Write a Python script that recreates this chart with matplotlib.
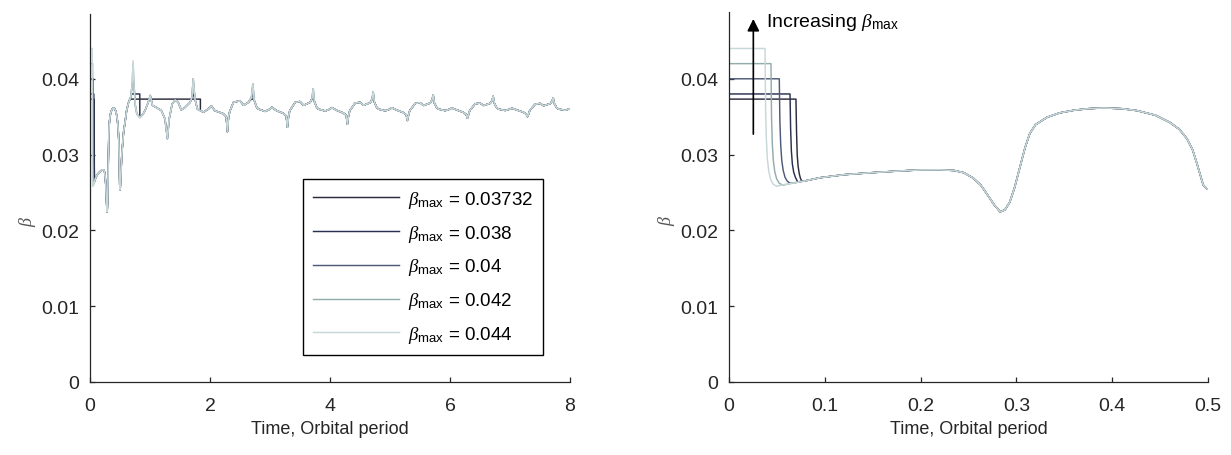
import numpy as np
import matplotlib
matplotlib.use("Agg")
import matplotlib.pyplot as plt

plt.rcParams['font.family'] = ['Liberation Sans', 'DejaVu Sans']
plt.rcParams['mathtext.fontset'] = 'custom'
plt.rcParams['mathtext.rm'] = 'Liberation Sans'
plt.rcParams['mathtext.it'] = 'Liberation Serif:italic'
plt.rcParams['mathtext.bf'] = 'Liberation Sans:bold'

# ---------------- data ----------------
beta_max = [0.03732, 0.038, 0.04, 0.042, 0.044]
labels = ["0.03732", "0.038", "0.04", "0.042", "0.044"]
colors = ["#2b2b3c", "#2a3050", "#4f5b78", "#93adae", "#c8d7d8"]

# initial plateau + drop of each run (time in orbital periods, beta)
head_t_03732 = [0.0, 0.0699, 0.0705, 0.0712, 0.0721, 0.0733, 0.0745, 0.0759]
head_b_03732 = [0.03732, 0.03732, 0.0330, 0.0300, 0.0285, 0.0275, 0.0269, 0.02652]
head_t_038 = [0.0, 0.0637, 0.0643, 0.0651, 0.0661, 0.0675, 0.0693, 0.0717]
head_b_038 = [0.0380, 0.0380, 0.0335, 0.0305, 0.0288, 0.0277, 0.0270, 0.02640]
head_t_040 = [0.0, 0.0525, 0.0531, 0.0540, 0.0551, 0.0566, 0.0585, 0.0608, 0.0637]
head_b_040 = [0.0400, 0.0400, 0.0345, 0.0312, 0.0292, 0.0279, 0.0270, 0.0265, 0.02622]
head_t_042 = [0.0, 0.0438, 0.0444, 0.0452, 0.0462, 0.0477, 0.0497, 0.0525, 0.0567]
head_b_042 = [0.0420, 0.0420, 0.0350, 0.0315, 0.0293, 0.0278, 0.0268, 0.0262, 0.02595]
head_t_044 = [0.0, 0.0376, 0.0382, 0.0390, 0.0400, 0.0415, 0.0435, 0.0460, 0.0498]
head_b_044 = [0.0440, 0.0440, 0.0360, 0.0320, 0.0295, 0.0278, 0.0267, 0.0261, 0.02582]

# limiter hold windows (start, end) where beta stays at beta_max
hold_03732 = (0.665, 1.84)
hold_038 = (0.69, 0.83)

# common trajectory after the initial drop
common_t = [
    0.050, 0.060, 0.070, 0.080, 0.095, 0.120, 0.147, 0.175, 0.200, 0.220,
    0.235, 0.245, 0.255, 0.263, 0.270, 0.277, 0.283, 0.288, 0.293, 0.298,
    0.304, 0.309, 0.314, 0.320, 0.332, 0.345, 0.360, 0.375, 0.391, 0.410,
    0.426, 0.445, 0.460, 0.470, 0.478, 0.484, 0.488, 0.492, 0.495, 0.499,
    0.503, 0.510, 0.530, 0.560, 0.583, 0.610, 0.640, 0.680, 0.700, 0.718,
    0.735, 0.755, 0.780, 0.830, 0.880, 0.917, 0.970, 1.005, 1.040, 1.110,
    1.190, 1.250, 1.290, 1.320, 1.370, 1.420, 1.470, 1.520, 1.580, 1.670,
    1.700, 1.720, 1.750, 1.790, 1.890, 1.970, 2.025, 2.080, 2.220, 2.270,
    2.290, 2.310, 2.330, 2.390, 2.500, 2.560, 2.640, 2.690, 2.715, 2.735,
    2.780, 2.810, 2.920, 3.000, 3.030, 3.110, 3.220, 3.270, 3.290, 3.310,
    3.330, 3.420, 3.500, 3.560, 3.670, 3.700, 3.720, 3.740, 3.780, 3.810,
    3.920, 4.000, 4.030, 4.110, 4.220, 4.270, 4.290, 4.310, 4.330, 4.420,
    4.500, 4.560, 4.670, 4.700, 4.720, 4.740, 4.780, 4.810, 4.920, 5.000,
    5.030, 5.110, 5.220, 5.270, 5.290, 5.310, 5.330, 5.420, 5.500, 5.560,
    5.670, 5.700, 5.720, 5.740, 5.780, 5.810, 5.920, 6.000, 6.030, 6.110,
    6.220, 6.270, 6.290, 6.310, 6.330, 6.420, 6.500, 6.560, 6.670, 6.700,
    6.720, 6.740, 6.780, 6.810, 6.920, 7.000, 7.030, 7.110, 7.220, 7.270,
    7.290, 7.310, 7.330, 7.420, 7.500, 7.560, 7.670, 7.700, 7.720, 7.740,
    7.780, 7.810, 7.920, 8.000]
common_b = [
    0.02585, 0.02608, 0.02632, 0.02655, 0.02695, 0.02735, 0.02760, 0.02782, 0.02798, 0.02800,
    0.02790, 0.02762, 0.02690, 0.02595, 0.02465, 0.02335, 0.02245, 0.02270, 0.02370, 0.02560,
    0.02850, 0.03090, 0.03280, 0.03395, 0.03492, 0.03550, 0.03585, 0.03606, 0.03615, 0.03606,
    0.03580, 0.03520, 0.03426, 0.03335, 0.03210, 0.03060, 0.02900, 0.02730, 0.02600, 0.02545,
    0.02535, 0.02640, 0.03000, 0.03300, 0.03420, 0.03580, 0.03680, 0.03760, 0.03900, 0.04240,
    0.03900, 0.03650, 0.03540, 0.03490, 0.03530, 0.03580, 0.03690, 0.03780, 0.03650, 0.03620,
    0.03580, 0.03470, 0.03210, 0.03470, 0.03670, 0.03720, 0.03690, 0.03590, 0.03620, 0.03690,
    0.03760, 0.04000, 0.03730, 0.03600, 0.03560, 0.03600, 0.03640, 0.03580, 0.03540, 0.03500,
    0.03300, 0.03500, 0.03570, 0.03690, 0.03710, 0.03650, 0.03690, 0.03750, 0.03930, 0.03720,
    0.03620, 0.03600, 0.03570, 0.03600, 0.03625, 0.03580, 0.03545, 0.03510, 0.03360, 0.03510,
    0.03580, 0.03690, 0.03700, 0.03650, 0.03690, 0.03740, 0.03870, 0.03700, 0.03620, 0.03600,
    0.03575, 0.03600, 0.03620, 0.03585, 0.03550, 0.03520, 0.03400, 0.03520, 0.03580, 0.03680,
    0.03690, 0.03650, 0.03685, 0.03730, 0.03830, 0.03690, 0.03620, 0.03600, 0.03578, 0.03600,
    0.03618, 0.03588, 0.03555, 0.03525, 0.03450, 0.03525, 0.03580, 0.03675, 0.03685, 0.03648,
    0.03680, 0.03720, 0.03790, 0.03680, 0.03618, 0.03600, 0.03580, 0.03600, 0.03615, 0.03590,
    0.03558, 0.03530, 0.03480, 0.03530, 0.03582, 0.03670, 0.03680, 0.03648, 0.03676, 0.03712,
    0.03770, 0.03675, 0.03616, 0.03600, 0.03582, 0.03600, 0.03612, 0.03590, 0.03560, 0.03535,
    0.03500, 0.03535, 0.03584, 0.03665, 0.03675, 0.03645, 0.03672, 0.03705, 0.03750, 0.03670,
    0.03615, 0.03600, 0.03585, 0.03605]

heads = [(head_t_03732, head_b_03732), (head_t_038, head_b_038), (head_t_040, head_b_040),
         (head_t_042, head_b_042), (head_t_044, head_b_044)]
holds = [hold_03732, hold_038, None, None, None]


def build(head, bmax, hold):
    ct = np.asarray(common_t)
    cb = np.asarray(common_b)
    ht, hb = np.asarray(head[0]), np.asarray(head[1])
    m = ct > ht[-1]
    t = np.concatenate([ht, ct[m]])
    b = np.concatenate([hb, np.minimum(cb[m], bmax)])
    if hold is not None:
        t0, t1 = hold
        keep_a = t < t0
        keep_b = t > t1
        b_end = min(np.interp(t1, ct, cb), bmax)
        t = np.concatenate([t[keep_a], [t0, t1, t1], t[keep_b]])
        b = np.concatenate([b[keep_a], [bmax, bmax, b_end], b[keep_b]])
    return t, b


series = [build(heads[i], beta_max[i], holds[i]) for i in range(5)]

# ---------------- figure ----------------
W, H = 1231, 456
fig = plt.figure(figsize=(W / 100, H / 100), dpi=100)
axL = fig.add_axes([90 / W, 73 / H, 480 / W, 368 / H])
axR = fig.add_axes([729 / W, 73 / H, 479 / W, 370 / H])

axis_col = "#262626"
tick_fs = 14

for ax, xlim, ytop in ((axL, (0, 8), 368 / 7580), (axR, (0, 0.5), 370 / 7580)):
    for i in range(5):
        t, b = series[i]
        ax.plot(t, b, color=colors[i], lw=1.05,
                label=r"$\beta_{\mathrm{max}}$ = " + labels[i])
    ax.set_xlim(*xlim)
    ax.set_ylim(0, ytop)
    ax.spines['top'].set_visible(False)
    ax.spines['right'].set_visible(False)
    for s in ('left', 'bottom'):
        ax.spines[s].set_color(axis_col)
        ax.spines[s].set_linewidth(0.9)
    ax.set_yticks([0, 0.01, 0.02, 0.03, 0.04])
    ax.set_yticklabels(["0", "0.01", "0.02", "0.03", "0.04"])
    ax.tick_params(direction='in', length=3.6, width=0.9, color=axis_col,
                   labelcolor=axis_col, labelsize=tick_fs)
    ax.tick_params(axis='x', pad=11)
    ax.tick_params(axis='y', pad=8)
    ax.set_xlabel("Time, Orbital period", fontsize=13, color=axis_col, labelpad=4)
    ax.set_ylabel(r"$\beta$", fontsize=13, color="#555555", rotation=90)
    ax.yaxis.set_label_coords(-0.108, 0.44)

axL.set_xticks([0, 2, 4, 6, 8])
axL.set_xticklabels(["0", "2", "4", "6", "8"])
axR.set_xticks([0, 0.1, 0.2, 0.3, 0.4, 0.5])
axR.set_xticklabels(["0", "0.1", "0.2", "0.3", "0.4", "0.5"])

leg = axL.legend(loc='lower right', bbox_to_anchor=(0.944, 0.073), borderaxespad=0,
                 fontsize=13.5, frameon=True, fancybox=False, framealpha=1,
                 edgecolor='black', handlelength=4.6, handletextpad=0.45,
                 labelspacing=0.68, borderpad=0.55)
leg.get_frame().set_linewidth(1.0)

# annotation arrow on the right panel
arrow_x = 0.0254
axR.annotate("", xy=(arrow_x, 0.0479), xytext=(arrow_x, 0.0327),
             arrowprops=dict(arrowstyle='-|>', color='black', lw=1.2,
                             mutation_scale=18, shrinkA=0, shrinkB=0),
             annotation_clip=False)
axR.text(0.0386, 0.0470, r"Increasing $\beta_{\mathrm{max}}$", fontsize=14,
         color='black', ha='left', va='baseline', clip_on=False)

fig.savefig("out.png", dpi=100)
